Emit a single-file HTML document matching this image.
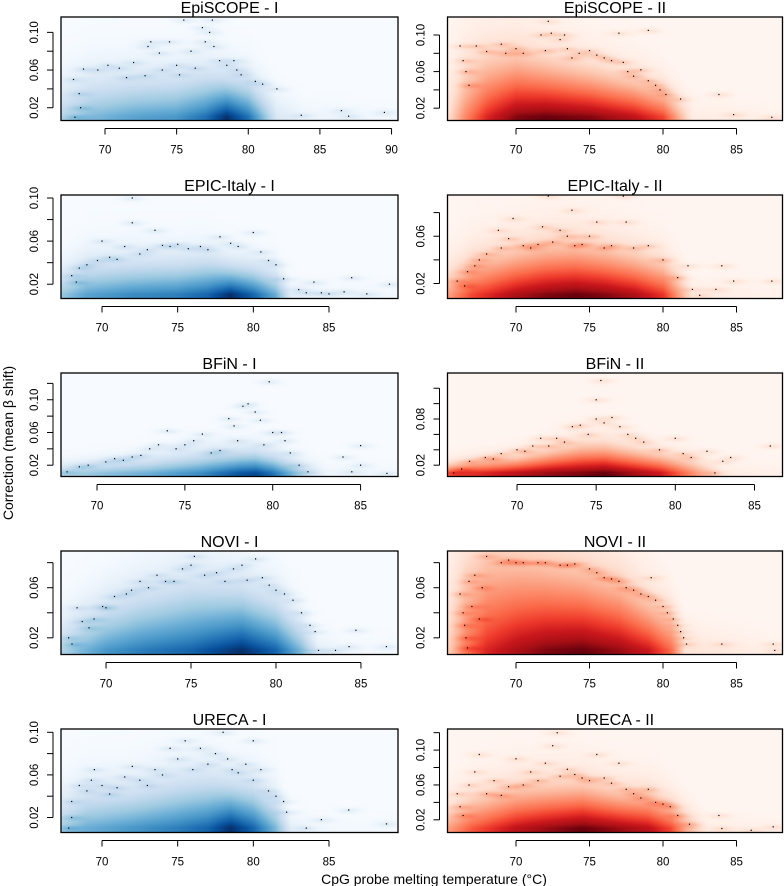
<!DOCTYPE html>
<html><head><meta charset="utf-8">
<style>
html,body{margin:0;padding:0;background:#fff;}
#wrap{position:relative;width:784px;height:886px;overflow:hidden;}
canvas{position:absolute;}
svg{position:absolute;left:0;top:0;}
text{font-family:"Liberation Sans",Arial,sans-serif;fill:#000;}
</style></head>
<body>
<div id="wrap">
<svg id="ov" width="784" height="886"></svg>
</div>
<script>
// ---- data arrays ----
const panelTitles = ["EpiSCOPE - I","EpiSCOPE - II","EPIC-Italy - I","EPIC-Italy - II","BFiN - I","BFiN - II","NOVI - I","NOVI - II","URECA - I","URECA - II"];
const xTicks = [[70,75,80,85,90],[70,75,80,85],[70,75,80,85],[70,75,80,85],[70,75,80,85],[70,75,80,85],[70,75,80,85],[70,75,80,85],[70,75,80,85],[70,75,80,85]];
const yTicks = [[0.02,0.04,0.06,0.08,0.10],[0.02,0.04,0.06,0.08,0.10],[0.02,0.04,0.06,0.08,0.10],[0.02,0.04,0.06,0.08],[0.02,0.04,0.06,0.08,0.10,0.12],[0.02,0.04,0.06,0.08,0.10,0.12],[0.02,0.04,0.06,0.08],[0.02,0.04,0.06,0.08],[0.02,0.04,0.06,0.08,0.10],[0.02,0.04,0.06,0.08,0.10,0.12]];
const yTickLabels = [["0.02","","0.06","","0.10"],["0.02","","0.06","","0.10"],["0.02","","0.06","","0.10"],["0.02","","0.06",""],["0.02","","0.06","","0.10",""],["0.02","","","0.08","",""],["0.02","","0.06",""],["0.02","","0.06",""],["0.02","","0.06","","0.10"],["0.02","","0.06","","0.10",""]];
const xDomains = [[66.93,90.45],[65.34,88.13],[67.29,89.56],[65.34,88.13],[67.95,87.13],[65.61,86.77],[67.35,87.18],[65.34,88.13],[67.29,89.56],[65.34,88.13]];
const yDomains = [[0.00645,0.1163],[0.00652,0.1197],[0.00674,0.1028],[0.0073,0.0949],[0.0062,0.1327],[0.0053,0.1398],[0.0067,0.0893],[0.0067,0.0893],[0.0059,0.1031],[0.00545,0.1242]];
// density profile (temperature, amplitude at floor, vertical spread)
const profX = [
[67,69,72,75,77,78.5,80,81,82,84,90],
[65.5,66.5,68,70,72,75,78,80,81,82,88],
[67.5,69,72,75,77,78.5,80,81.5,82.5,84,89],
[65.5,67,70,72,74,76,78,80,81,82,87],
[68,70,73,76,78,79,80,81,82,83,87],
[65.5,67,70,72,74,75.5,77,79,81,83,87],
[67.3,68.5,70,72,75,78,80,81.5,82.5,84,87],
[65.5,66.5,68,70,72,74.5,77,79,80.5,81.5,88],
[67.3,69,72,75,77,78.5,80,81.5,82.5,84,89],
[65.5,67,70,72,74.5,77,79,80.5,81.5,83,88]];
const profAmp = [
[0.3,0.45,0.55,0.6,0.75,1.0,0.75,0.45,0.15,0.05,0.03],
[0.15,0.4,0.7,0.95,1.0,0.95,0.8,0.6,0.3,0.05,0.02],
[0.4,0.55,0.65,0.7,0.8,1.0,0.8,0.5,0.1,0.05,0.03],
[0.35,0.6,0.85,0.95,1.0,0.95,0.85,0.65,0.35,0.05,0.02],
[0.3,0.4,0.5,0.65,0.85,0.9,0.75,0.5,0.2,0.05,0.02],
[0.5,0.65,0.8,0.9,0.95,1.0,0.9,0.75,0.4,0.05,0.02],
[0.3,0.45,0.6,0.7,0.8,1.0,0.8,0.45,0.1,0.03,0.02],
[0.2,0.45,0.7,0.85,0.95,1.0,0.9,0.75,0.5,0.1,0.02],
[0.35,0.5,0.6,0.7,0.8,1.0,0.8,0.45,0.1,0.03,0.02],
[0.35,0.55,0.8,0.9,1.0,0.9,0.8,0.6,0.3,0.05,0.02]];
const profSpread = [
[0.03,0.035,0.035,0.035,0.035,0.03,0.03,0.025,0.02,0.015,0.01],
[0.04,0.05,0.05,0.048,0.042,0.036,0.03,0.025,0.02,0.015,0.01],
[0.02,0.025,0.025,0.025,0.025,0.02,0.02,0.018,0.01,0.01,0.01],
[0.02,0.025,0.028,0.03,0.03,0.028,0.025,0.022,0.018,0.01,0.01],
[0.01,0.012,0.015,0.02,0.02,0.02,0.018,0.015,0.012,0.01,0.01],
[0.01,0.012,0.015,0.02,0.025,0.025,0.022,0.018,0.015,0.01,0.01],
[0.02,0.025,0.03,0.035,0.04,0.035,0.03,0.02,0.01,0.01,0.01],
[0.05,0.06,0.06,0.055,0.05,0.045,0.04,0.03,0.025,0.015,0.01],
[0.025,0.03,0.03,0.035,0.035,0.03,0.03,0.025,0.01,0.01,0.01],
[0.025,0.03,0.035,0.035,0.035,0.03,0.03,0.025,0.02,0.01,0.01]];
// outlier points
const ptsX = [
[67.9,68.3,68.2,67.8,68.5,69.5,70.2,71,71.5,72,72.8,73,73.2,73.8,74,74.5,75,75.2,75.5,76,76.3,76.8,77,77.3,77.6,77.5,78,78.5,79,79.2,79.5,80.5,81,82,83.7,86.5,87,89.5],
[66.2,66.4,66.6,66.8,67.3,68,69,69.3,70,70.5,71.7,72,72.4,73,73.3,73.5,73.8,74.3,75,75.5,76,76.5,77,77.3,77.6,78,78.5,79,79,79.5,79.8,80.2,81.2,83.8,84.8,87.4,72.2],
[68,68.3,68.5,69,69.7,70,70.5,71,71.5,72,72,72.5,73,73.5,74,74.5,75,75.7,76.5,77,77.8,78.5,79,80,80.5,81,81.5,82,83,83.5,84,84.5,85,86,86.5,87.5,89],
[66,66.5,66.7,67.2,67.5,68,68.8,69,69.5,69.8,70.5,71,71.5,71.8,72.2,72.5,73,73.5,73.8,74,74.5,75,75.5,76,76.5,77.3,77.5,78,79,80,81,81.7,82,82.5,83.6,84,84.8,87.4],
[68.3,69,69.5,70.5,71,71.5,72,72.5,73,73.5,74,74.5,75,75.5,76,76.5,77,77.5,77.8,78,78.3,78.6,79,79.3,79.5,79.8,80,80.5,80.7,81,81.5,82,84,84.5,85,85,86.5],
[66,66.5,67,68,68.5,69,70,70.5,71,71.5,72,72.5,73,73.5,74,74.5,75,75,75.3,75.5,76,76.5,77,77.5,78,79,80,80.5,81,82,82.5,83,83.5,86],
[67.8,68,68.3,68.6,69,69.3,69.8,70,70.5,71.2,71.5,72,72.5,73,73.5,74,74.5,75,75.2,75.8,76.5,77,77.5,78,78.3,78.8,79.2,79.6,80,80.5,81,81.5,82,82.3,82.5,83.5,84.3,84.7,86.5],
[66.2,66.4,66.5,66.6,66.7,66.8,67,67.2,67.5,67.7,68,69,69.5,70,70.5,71.5,72,73,73.5,74,75,75.5,76,76.5,77,77.5,78,78.5,79,79.2,79.5,80,80.3,80.7,81,81.2,81.4,81.6,84,87.5,87.6],
[67.8,68,68,68.5,69,69.3,69.5,70,70.5,71,71.5,72,72.5,73,73.5,74,74.5,75,75.5,76,76.5,77,77.5,78,78.3,78.6,79,79.5,80,80,80.5,81,81.5,82,82.2,83.5,84.5,86.3,88.8],
[66,66.2,66.4,66.8,67.2,67.5,68,68.5,69,69.5,70,70.5,71,71.5,72,72.5,72.8,73,73.5,74,74.5,75,75.5,76,76.5,77,77.5,78,78.5,79,79.5,80,80.5,81,81.8,83.8,84,86,87.5]];
const ptsY = [
[0.01,0.02,0.035,0.05,0.061,0.06,0.065,0.062,0.052,0.068,0.054,0.085,0.09,0.078,0.06,0.09,0.065,0.055,0.113,0.08,0.062,0.105,0.09,0.1,0.085,0.113,0.07,0.065,0.07,0.06,0.055,0.048,0.045,0.04,0.012,0.017,0.011,0.015],
[0.088,0.072,0.06,0.045,0.088,0.082,0.09,0.08,0.085,0.08,0.1,0.083,0.102,0.095,0.1,0.085,0.075,0.08,0.083,0.078,0.075,0.072,0.102,0.07,0.06,0.055,0.062,0.105,0.05,0.045,0.04,0.035,0.03,0.035,0.013,0.01,0.115],
[0.028,0.022,0.035,0.038,0.042,0.06,0.045,0.043,0.055,0.077,0.1,0.048,0.052,0.07,0.056,0.055,0.057,0.053,0.055,0.052,0.064,0.058,0.055,0.068,0.05,0.042,0.038,0.025,0.015,0.012,0.022,0.012,0.011,0.013,0.026,0.011,0.02],
[0.022,0.018,0.03,0.035,0.04,0.045,0.065,0.05,0.058,0.075,0.052,0.05,0.053,0.068,0.094,0.055,0.065,0.06,0.082,0.052,0.053,0.06,0.072,0.05,0.052,0.094,0.072,0.05,0.052,0.04,0.025,0.035,0.015,0.01,0.015,0.035,0.022,0.022],
[0.012,0.018,0.02,0.024,0.028,0.026,0.03,0.032,0.04,0.045,0.062,0.04,0.045,0.05,0.058,0.035,0.038,0.077,0.068,0.05,0.092,0.095,0.085,0.075,0.045,0.122,0.06,0.06,0.05,0.035,0.02,0.012,0.03,0.012,0.02,0.044,0.01],
[0.01,0.015,0.025,0.03,0.028,0.035,0.04,0.038,0.045,0.055,0.045,0.055,0.05,0.07,0.072,0.06,0.08,0.105,0.13,0.075,0.082,0.07,0.06,0.055,0.05,0.04,0.055,0.035,0.03,0.038,0.01,0.025,0.03,0.045],
[0.02,0.015,0.044,0.033,0.028,0.035,0.045,0.044,0.053,0.055,0.058,0.065,0.06,0.07,0.065,0.065,0.075,0.078,0.085,0.07,0.072,0.065,0.075,0.078,0.066,0.083,0.068,0.062,0.058,0.055,0.05,0.04,0.03,0.025,0.01,0.01,0.013,0.026,0.013],
[0.055,0.04,0.03,0.02,0.012,0.065,0.045,0.07,0.035,0.06,0.085,0.08,0.082,0.08,0.08,0.08,0.08,0.078,0.078,0.079,0.075,0.072,0.068,0.067,0.065,0.06,0.058,0.055,0.053,0.068,0.05,0.045,0.04,0.035,0.03,0.025,0.02,0.015,0.015,0.015,0.01],
[0.01,0.02,0.035,0.05,0.045,0.055,0.065,0.05,0.042,0.048,0.058,0.068,0.055,0.05,0.065,0.06,0.085,0.075,0.092,0.065,0.085,0.07,0.08,0.1,0.075,0.065,0.062,0.07,0.092,0.055,0.065,0.045,0.04,0.035,0.025,0.01,0.018,0.027,0.014],
[0.05,0.035,0.025,0.06,0.075,0.095,0.05,0.065,0.048,0.058,0.09,0.06,0.075,0.065,0.085,0.105,0.12,0.07,0.078,0.072,0.068,0.065,0.095,0.068,0.062,0.085,0.055,0.05,0.045,0.055,0.04,0.038,0.035,0.025,0.015,0.025,0.01,0.008,0.012]];

// ---- layout (pixels) ----
const colBox = [[61,398],[447.5,782.5]];
const rowTop = 17, rowStep = 178, boxH = 103.5;
const blues = ["#F7FBFF","#DEEBF7","#C6DBEF","#9ECAE1","#6BAED6","#4292C6","#2171B5","#08519C","#08306B"];
const reds = ["#FFF5F0","#FEE0D2","#FCBBA1","#FC9272","#FB6A4A","#EF3B2C","#CB181D","#A50F15","#67000D"];
function hex(c){return [parseInt(c.slice(1,3),16),parseInt(c.slice(3,5),16),parseInt(c.slice(5,7),16)];}
function cmap(pal,t){t=Math.max(0,Math.min(1,t));const n=pal.length-1;const f=t*n;const i=Math.min(n-1,Math.floor(f));const u=f-i;const a=hex(pal[i]),b=hex(pal[i+1]);return [a[0]+(b[0]-a[0])*u,a[1]+(b[1]-a[1])*u,a[2]+(b[2]-a[2])*u];}
function interp(xs,vs,x){if(x<=xs[0])return vs[0];if(x>=xs[xs.length-1])return vs[vs.length-1];for(let i=0;i<xs.length-1;i++){if(x<=xs[i+1]){const u=(x-xs[i])/(xs[i+1]-xs[i]);return vs[i]+(vs[i+1]-vs[i])*u;}}return vs[vs.length-1];}

const NS="http://www.w3.org/2000/svg";
const ov=document.getElementById('ov');
const wrap=document.getElementById('wrap');
function el(tag,attrs,parent){const e=document.createElementNS(NS,tag);for(const k in attrs)e.setAttribute(k,attrs[k]);(parent||ov).appendChild(e);return e;}

for(let p=0;p<10;p++){
  const col=p%2,row=Math.floor(p/2);
  const L=colBox[col][0],R=colBox[col][1],T=rowTop+row*rowStep,B=T+boxH;
  const [x0,x1]=xDomains[p],[y0,y1]=yDomains[p];
  const sx=v=>L+(v-x0)/(x1-x0)*(R-L);
  const sy=v=>B-(v-y0)/(y1-y0)*(B-T);
  const pal=col===0?blues:reds;
  const W=Math.round(R-L),H=Math.round(B-T);
  const cv=document.createElement('canvas');
  cv.width=W;cv.height=H;cv.style.left=L+'px';cv.style.top=T+'px';
  
  
  wrap.insertBefore(cv,ov);
  const ctx=cv.getContext('2d');const img=ctx.createImageData(W,H);
  const pp=ptsX[p].map((x,i)=>[sx(x)-L,sy(ptsY[p][i])-T]);
  for(let j=0;j<H;j++){
    const yv=y1-(j+0.5)/H*(y1-y0);
    for(let i=0;i<W;i++){
      const xv=x0+(i+0.5)/W*(x1-x0);
      const amp=interp(profX[p],profAmp[p],xv),sp=interp(profX[p],profSpread[p],xv);
      const h=Math.max(0,yv-0.011);
      const dg=h/(1.3*sp),de=h/(0.6*sp);
      let I=amp*(0.5*Math.exp(-dg*dg)+0.5*Math.exp(-de));
      for(const q of pp){const dx=(i-q[0])/11,dy=(j-q[1])/2.6;const dd=dx*dx+dy*dy;if(dd<9)I+=0.1*Math.exp(-dd);}
      const c=cmap(pal,I);const k=(j*W+i)*4;
      img.data[k]=c[0];img.data[k+1]=c[1];img.data[k+2]=c[2];img.data[k+3]=255;
    }
  }
  ctx.putImageData(img,0,0);
  const g=el('g',{});
  
  
  ptsX[p].forEach((x,i)=>{
    const r=el('rect',{x:(sx(x)-0.6).toFixed(1),y:(sy(ptsY[p][i])-0.6).toFixed(1),width:1.2,height:1.2,fill:'#000'},g);
    
    
  });
  const fr=el('rect',{x:L,y:T,width:R-L,height:B-T,fill:'none',stroke:'#000','stroke-width':1.3},g);
  
  
  const tt=el('text',{x:(L+R)/2,y:T-4,'text-anchor':'middle','font-size':16},g);
  tt.textContent=panelTitles[p];
  
  
  const xt=xTicks[p];
  el('line',{x1:sx(xt[0]),x2:sx(xt[xt.length-1]),y1:B+8,y2:B+8,stroke:'#000','stroke-width':1},g);
  xt.forEach(v=>{
    el('line',{x1:sx(v),x2:sx(v),y1:B+8,y2:B+14,stroke:'#000','stroke-width':1},g);
    const t=el('text',{x:sx(v),y:B+33,'text-anchor':'middle','font-size':11.5},g);
    t.textContent=v;
    
    
  });
  const yt=yTicks[p];
  el('line',{x1:L-8,x2:L-8,y1:sy(yt[0]),y2:sy(yt[yt.length-1]),stroke:'#000','stroke-width':1},g);
  yt.forEach((v,i)=>{
    el('line',{x1:L-8,x2:L-14,y1:sy(v),y2:sy(v),stroke:'#000','stroke-width':1},g);
    const lab=yTickLabels[p][i];
    if(lab){
      const cx=L-26,cy=sy(v);
      const t=el('text',{x:cx,y:cy,'text-anchor':'middle','dominant-baseline':'central','font-size':11.5,transform:`rotate(-90 ${cx} ${cy})`},g);
      t.textContent=lab;
      
      
    }
  });
}
const xa=el('text',{x:434,y:884,'text-anchor':'middle','font-size':14});
xa.textContent='CpG probe melting temperature (°C)';


const ya=el('text',{x:8,y:443,'text-anchor':'middle','dominant-baseline':'central','font-size':14,transform:'rotate(-90 8 443)'});
ya.textContent='Correction (mean β shift)';


</script>
</body></html>
